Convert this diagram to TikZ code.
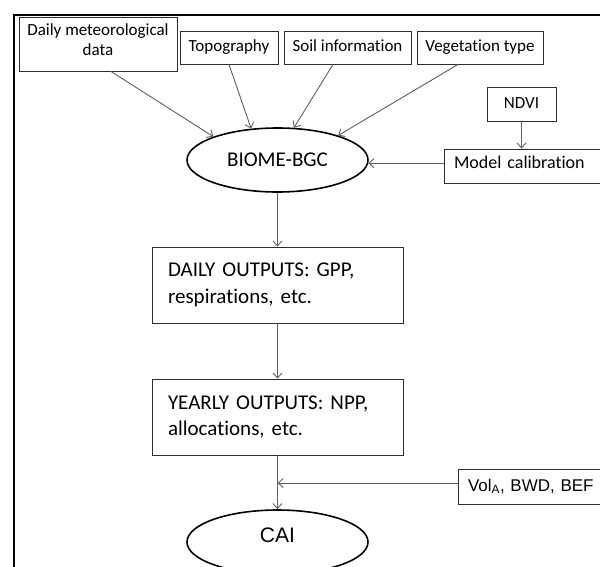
\documentclass[tikz,border=0pt]{standalone}
\usepackage{fontspec}
\setmainfont[Ligatures=NoCommon]{Carlito}
\newfontfamily\arialf{Liberation Sans}
\usetikzlibrary{arrows.meta,shapes.geometric}
\definecolor{boxc}{RGB}{45,45,45}
\definecolor{linec}{RGB}{95,95,95}
\begin{document}
\begin{tikzpicture}[x=1pt,y=-1pt,
  box/.style={draw=boxc, line width=0.9pt, rectangle, inner sep=0pt, align=center},
  small/.style={font=\fontsize{17}{20}\selectfont},
  onebox/.style={box, small, text height=12pt, text depth=4pt},
  bigbox/.style={box, font=\fontsize{21}{26.7}\selectfont, align=left, text width=219pt, inner xsep=16pt, minimum width=251pt, minimum height=76pt},
  oval/.style={draw=black, line width=1.6pt, ellipse, inner sep=0pt, minimum width=181pt, minimum height=64pt},
  conn/.style={draw=linec, line width=0.9pt, -{Straight Barb[length=5pt,width=9pt,line width=0.9pt]}},
  frame/.style={draw=black, line width=1.3pt}
  ]
\useasboundingbox (0,0) rectangle (600,566);
\fill[white] (0,0) rectangle (600,566);
\clip (0,0) rectangle (600,566);
\draw[frame] (14,575) -- (14,15) -- (610,15);

\node[box, small, minimum width=158pt, minimum height=54pt, text depth=8pt] (met) at (98,44) {Daily meteorological\\data};
\node[onebox, minimum width=98pt, minimum height=33pt] (topo) at (229,47.5) {Topography};
\node[onebox, minimum width=127pt, minimum height=33pt] (soil) at (347.5,47.5) {Soil information};
\node[onebox, minimum width=126pt, minimum height=33pt] (veg) at (480,47.5) {Vegetation type};
\node[onebox, minimum width=69pt, minimum height=34pt] (ndvi) at (521.5,104) {NDVI};
\node[box, font=\fontsize{18}{21}\selectfont, align=left, text width=140pt, inner xsep=10pt, minimum height=34pt, text height=12.5pt, text depth=8.5pt] (mc) at (524,166) {Model calibration};

\node[oval, font=\fontsize{21}{25}\selectfont] (biome) at (277.5,160) {BIOME-BGC};
\node[bigbox] (daily) at (277.5,285) {DAILY OUTPUTS: GPP,\\respirations, etc.};
\node[bigbox] (yearly) at (277.5,417) {YEARLY OUTPUTS: NPP,\\allocations, etc.};
\node[box, font=\arialf\fontsize{17}{20}\selectfont, align=left, text width=126pt, inner xsep=10pt, minimum height=35pt] (vol) at (531,486.5) {Vol\textsubscript{A}, BWD, BEF};
\node[oval, font=\arialf\fontsize{21}{25}\selectfont, text depth=13pt] (cai) at (277.5,542) {CAI};

\draw[conn] ([xshift=13pt]met.south) -- (biome.160);
\draw[conn] (topo.south) -- (biome.130.5);
\draw[conn] ([xshift=-14.5pt]soil.south) -- (biome.63);
\draw[conn] ([xshift=-22pt]veg.south) -- (biome.22.5);
\draw[conn] (ndvi.south) -- (ndvi.south |- mc.north);
\draw[conn] (mc.west |- biome.-2) -- (biome.-2);
\draw[conn] (biome) -- (daily);
\draw[conn] (daily) -- (yearly);
\draw[conn] (yearly) -- (cai);
\coordinate (vj) at ([yshift=3.5pt]vol.west);
\draw[conn] (vj) -- (vj -| yearly.south);
\end{tikzpicture}
\end{document}
